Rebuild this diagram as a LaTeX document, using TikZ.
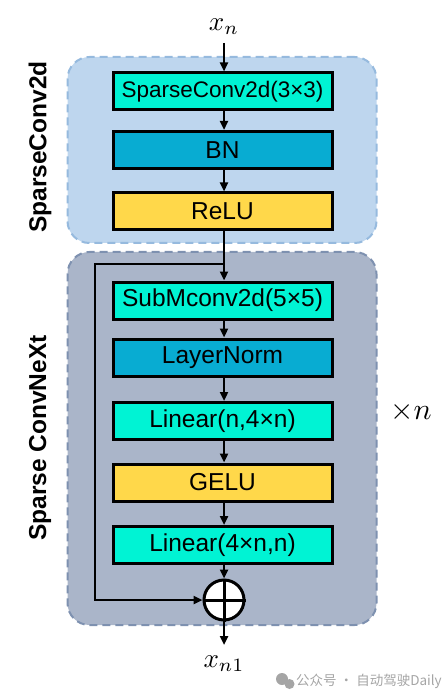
\documentclass[tikz,border=0pt]{standalone}
\usepackage{graphicx}
\usepackage{fontspec}
\setmainfont{Liberation Sans}
\newfontfamily\cjk{Noto Sans CJK SC}
\usetikzlibrary{arrows.meta,positioning}
\definecolor{cyanbox}{RGB}{0,243,212}
\definecolor{bluebox}{RGB}{8,172,210}
\definecolor{yellowbox}{RGB}{255,216,74}
\definecolor{grpblue}{RGB}{190,214,238}
\definecolor{grpblueline}{RGB}{150,186,222}
\definecolor{grpgray}{RGB}{170,181,201}
\definecolor{grpgrayline}{RGB}{126,145,176}
\definecolor{wmgray}{RGB}{165,165,165}
\tikzset{
  layer/.style={draw=black,line width=3pt,minimum width=219pt,minimum height=37pt,inner sep=0pt,
    font=\fontsize{24.5}{24.5}\selectfont},
  group/.style={rounded corners=22pt,dash pattern=on 8pt off 5pt,line width=2pt},
  flow/.style={line width=2.6pt,-{Triangle[length=9pt,width=8pt]}},
  sidelabel/.style={rotate=90,font=\fontsize{24.5}{24.5}\selectfont\bfseries},
}
\begin{document}
\begin{tikzpicture}[x=1pt,y=-1pt]
\useasboundingbox (0,0) rectangle (446,700);
% groups
\node[group,draw=grpblueline,fill=grpblue,minimum width=309pt,minimum height=186pt,inner sep=0pt] (g1) at (222,150) {};
\node[group,draw=grpgrayline,fill=grpgray,minimum width=309pt,minimum height=373pt,inner sep=0pt] (g2) at (222,438.5) {};
% side labels
\node[sidelabel] (l1) at (40,147) {SparseConv2d};
\node[sidelabel] (l2) at (40,438) {Sparse ConvNeXt};
% input/output
\node (xin) at (224,27) {\scalebox{2.7}{$x_n$}};
\node (xout) at (224,664) {\scalebox{2.7}{$x_{n1}$}};
\node (times) at (411,412) {\scalebox{3.0}{$\times n$}};
% layers
\node[layer,fill=cyanbox,font=\fontsize{22.5}{22.5}\selectfont] (sc) at (222.5,91.5) {SparseConv2d(3\texttimes3)};
\node[layer,fill=bluebox] (bn) at (222.5,150) {BN};
\node[layer,fill=yellowbox] (relu) at (222.5,211.5) {ReLU};
\node[layer,fill=cyanbox] (sub) at (222.5,300.5) {SubMconv2d(5\texttimes5)};
\node[layer,fill=bluebox] (ln) at (222.5,357.5) {LayerNorm};
\node[layer,fill=cyanbox] (lin1) at (222.5,421) {Linear(n,4\texttimes n)};
\node[layer,fill=yellowbox] (gelu) at (222.5,482.5) {GELU};
\node[layer,fill=cyanbox] (lin2) at (222.5,545) {Linear(4\texttimes n,n)};
% plus
\node[circle,draw=black,fill=white,line width=3pt,minimum size=40pt,inner sep=0pt] (plus) at (224,600) {};
\draw[line width=3pt] (plus.north) -- (plus.south) (plus.west) -- (plus.east);
% flow
\coordinate (top) at (224,43);
\draw[flow] (top) -- (sc.north -| top);
\draw[flow] (sc.south -| top) -- (bn.north -| top);
\draw[flow] (bn.south -| top) -- (relu.north -| top);
\draw[flow] (relu.south -| top) -- (sub.north -| top);
\draw[flow] (sub.south -| top) -- (ln.north -| top);
\draw[flow] (ln.south -| top) -- (lin1.north -| top);
\draw[flow] (lin1.south -| top) -- (gelu.north -| top);
\draw[flow] (gelu.south -| top) -- (lin2.north -| top);
\draw[flow] (lin2.south -| top) -- (plus.north);
\draw[flow] (plus.south) -- (224,645) coordinate (outend);
% skip
\coordinate (split) at (224,264);
\coordinate (c1) at (95,264);
\coordinate (c2) at (95,600);
\draw[flow,line join=miter] (split) -- (c1) -- (c2) -- (plus.west);
% watermark
\fill[wmgray] (282,679) circle (6pt);
\fill[wmgray] (289.5,684) circle (5pt);
\node[anchor=west,text=wmgray,font=\cjk\fontsize{13.5}{13.5}\selectfont,inner sep=0pt] (wm) at (296,681) {公众号 · 自动驾驶Daily};
\end{tikzpicture}
\end{document}
